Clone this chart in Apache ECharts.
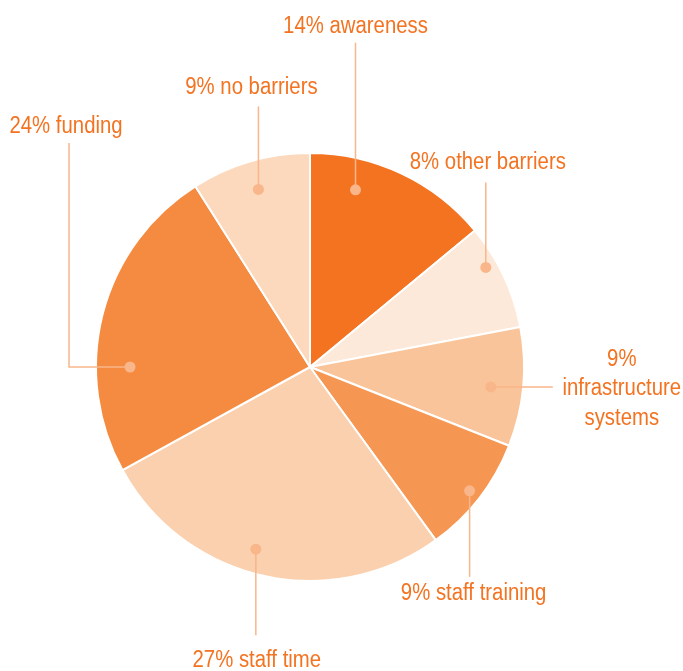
<!DOCTYPE html>
<html>
<head>
<meta charset="utf-8">
<script src="https://cdn.jsdelivr.net/npm/echarts@6/dist/echarts.min.js"></script>
<style>
  html, body { margin: 0; padding: 0; background: #fff; }
  #chart { width: 683px; height: 671px; }
</style>
</head>
<body>
<div id="chart"></div>
<script>
// slices, clockwise from 12 o'clock
var categories = ['awareness', 'other barriers', 'infrastructure\nsystems', 'staff training', 'staff time', 'funding', 'no barriers'];
var values = [14, 8, 9, 9, 27, 24, 9];
var colors = ['#F37321', '#FDE9DA', '#F9C499', '#F59753', '#FBD0AE', '#F48B40', '#FCD8BC'];

// where each callout sits: angle shift (percent of circle) and radius fraction of the dot,
// then the leader path and label offset relative to the dot, in px
var callouts = [
  { da: -3.0, rf: 0.855, path: [[0, -147]], label: [0, -163] },
  { da: -1.2, rf: 0.944, path: [[0, -85]], label: [2, -105] },
  { da: 0.25, rf: 0.85, path: [[62, 0]], label: [131, 2], breakPct: true },
  { da: 0, rf: 0.944, path: [[0, 86]], label: [4, 103] },
  { da: 1.1, rf: 0.888, path: [[0, 86]], label: [1, 112] },
  { da: -4.0, rf: 0.841, path: [[-61, 0], [-61, -224]], label: [-64, -240] },
  { da: 0, rf: 0.864, path: [[0, -83]], label: [-7, -102] }
];

var textColor = '#F37321';
var leaderColor = '#F8B68A';
var font = '23px "Liberation Sans", Arial, sans-serif';
var narrow = 0.885; // squeeze the text, the original face is a condensed one

var pieData = values.map(function (v, i) {
  return { value: v, name: categories[i], itemStyle: { color: colors[i] } };
});

var dotData = [];
var acc = 0;
values.forEach(function (v, i) {
  dotData.push([callouts[i].rf, acc + v / 2 + callouts[i].da, i]);
  acc += v;
});

var myChart = echarts.init(document.getElementById('chart'));
var option = {
  animation: false,
  polar: { center: [310, 367], radius: 214 },
  angleAxis: { type: 'value', min: 0, max: 100, startAngle: 90, clockwise: true, show: false },
  radiusAxis: { type: 'value', min: 0, max: 1, show: false },
  series: [
    {
      type: 'pie',
      center: [310, 367],
      radius: 214,
      startAngle: 90,
      clockwise: true,
      silent: true,
      label: { show: false },
      labelLine: { show: false },
      itemStyle: { borderColor: '#fff', borderWidth: 2 },
      data: pieData
    },
    {
      type: 'custom',
      coordinateSystem: 'polar',
      silent: true,
      z: 5,
      data: dotData,
      renderItem: function (params, api) {
        var i = api.value(2);
        var c = callouts[i];
        var p = api.coord([api.value(0), api.value(1)]);
        var pts = [[p[0], p[1]]];
        c.path.forEach(function (d) { pts.push([p[0] + d[0], p[1] + d[1]]); });
        var txt = values[i] + '%' + (c.breakPct ? '\n' : ' ') + categories[i];
        return {
          type: 'group',
          children: [
            { type: 'polyline', shape: { points: pts }, style: { stroke: leaderColor, lineWidth: 1.5, fill: null } },
            { type: 'circle', shape: { cx: p[0], cy: p[1], r: 5.5 }, style: { fill: leaderColor } },
            {
              type: 'text',
              x: p[0] + c.label[0],
              y: p[1] + c.label[1],
              scaleX: narrow,
              style: {
                x: 0,
                y: 0,
                text: txt,
                font: font,
                fill: textColor,
                align: 'center',
                verticalAlign: 'middle',
                lineHeight: 29.5
              }
            }
          ]
        };
      }
    }
  ]
};
myChart.setOption(option);
</script>
</body>
</html>
